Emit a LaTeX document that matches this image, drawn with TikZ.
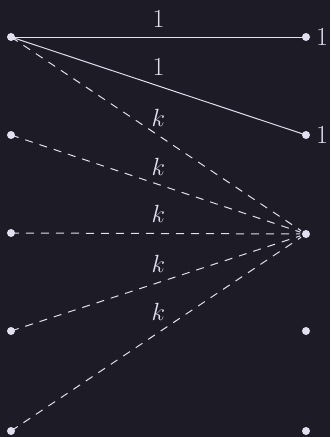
\documentclass[tikz,border=0pt]{standalone}
\definecolor{bg}{HTML}{1C1B26}
\definecolor{fg}{HTML}{E2E0F0}
\tikzset{
  dot/.style={circle,fill=fg,inner sep=0pt,minimum size=8pt},
  solidedge/.style={draw=fg,line width=1pt},
  dashedge/.style={draw=fg,line width=1pt,dash pattern=on 8pt off 7pt,shorten >=6pt},
  lab/.style={text=fg,font=\fontsize{26}{28}\selectfont,inner sep=0pt},
}
\begin{document}
\begin{tikzpicture}[x=1pt,y=-1pt]
\fill[bg] (0,0) rectangle (330,437);
\useasboundingbox (0,0) rectangle (330,437);
\node[dot] (l1) at (11,37) {};
\node[dot] (l2) at (11,135) {};
\node[dot] (l3) at (11,233) {};
\node[dot] (l4) at (11,331) {};
\node[dot] (l5) at (11,431) {};
\node[dot] (r1) at (306,37) {};
\node[dot] (r2) at (306,135) {};
\node[dot] (r3) at (306,234) {};
\node[dot] (r4) at (306,331) {};
\node[dot] (r5) at (306,431) {};
\node[lab,anchor=west] (t1) at (316,37) {1};
\node[lab,anchor=west] (t2) at (316,135) {1};
\draw[solidedge] (l1.center) -- node[lab,yshift=18pt] (e1) {1} (r1.center);
\draw[solidedge] (l1.center) -- node[lab,yshift=19pt] (e2) {1} (r2.center);
\draw[dashedge] (l1.center) -- node[lab,yshift=18pt] (e3) {$k$} (r3.center);
\draw[dashedge] (l2.center) -- node[lab,yshift=18pt] (e4) {$k$} (r3.center);
\draw[dashedge] (l3.center) -- node[lab,yshift=20pt] (e5) {$k$} (r3.center);
\draw[dashedge] (l4.center) -- node[lab,yshift=19pt] (e6) {$k$} (r3.center);
\draw[dashedge] (l5.center) -- node[lab,yshift=21pt] (e7) {$k$} (r3.center);
\end{tikzpicture}
\end{document}
